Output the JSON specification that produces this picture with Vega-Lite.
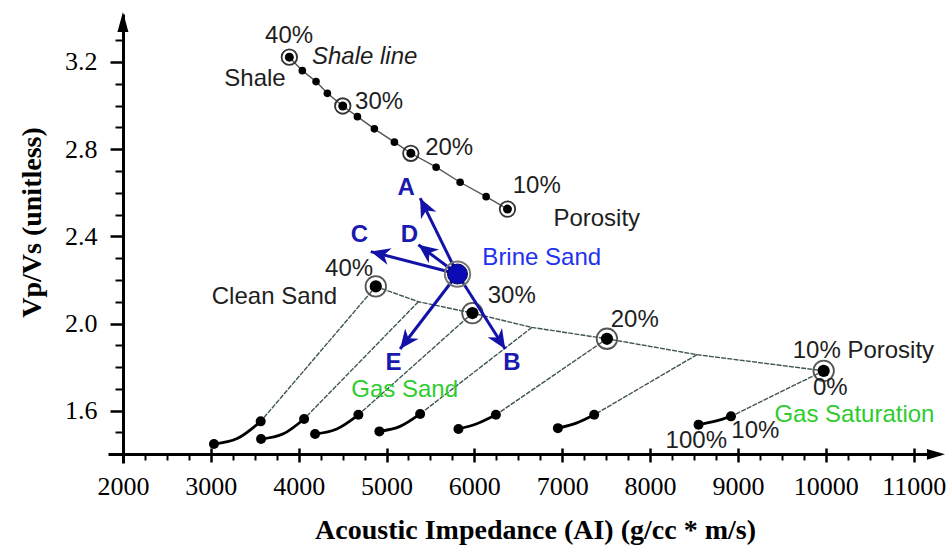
{
  "$schema": "https://vega.github.io/schema/vega-lite/v6.json",
  "width": 832,
  "height": 449,
  "autosize": {"type": "none"},
  "padding": {"left": 108, "top": 14, "right": 10, "bottom": 84},
  "background": "white",
  "config": {"view": {"stroke": null}, "axis": {"grid": false}},
  "resolve": {"axis": {"x": "independent", "y": "independent"}},
  "datasets": {
    "shale": [
      {"por": 40, "ai": 3894, "vpvs": 3.222},
      {"por": 37.5, "ai": 4042, "vpvs": 3.160},
      {"por": 35, "ai": 4198, "vpvs": 3.110},
      {"por": 32.5, "ai": 4327, "vpvs": 3.056},
      {"por": 30, "ai": 4502, "vpvs": 2.998},
      {"por": 27.5, "ai": 4669, "vpvs": 2.949},
      {"por": 25, "ai": 4862, "vpvs": 2.893},
      {"por": 22.5, "ai": 5090, "vpvs": 2.832},
      {"por": 20, "ai": 5277, "vpvs": 2.781},
      {"por": 17.5, "ai": 5565, "vpvs": 2.717},
      {"por": 15, "ai": 5838, "vpvs": 2.648},
      {"por": 12.5, "ai": 6134, "vpvs": 2.582},
      {"por": 10, "ai": 6377, "vpvs": 2.525}
    ],
    "sand": [
      {"por": 40, "ai": 4878, "vpvs": 2.170},
      {"por": 35, "ai": 5363, "vpvs": 2.100},
      {"por": 30, "ai": 5978, "vpvs": 2.048},
      {"por": 25, "ai": 6655, "vpvs": 1.982},
      {"por": 20, "ai": 7509, "vpvs": 1.930},
      {"por": 15, "ai": 8534, "vpvs": 1.857},
      {"por": 10, "ai": 9976, "vpvs": 1.783}
    ],
    "ties": [
      {"por": 40, "ai0": 4878, "v0": 2.170, "ai1": 3568, "v1": 1.551},
      {"por": 35, "ai0": 5363, "v0": 2.100, "ai1": 4062, "v1": 1.562},
      {"por": 30, "ai0": 5978, "v0": 2.048, "ai1": 4680, "v1": 1.581},
      {"por": 25, "ai0": 6655, "v0": 1.982, "ai1": 5383, "v1": 1.585},
      {"por": 20, "ai0": 7509, "v0": 1.930, "ai1": 6245, "v1": 1.581},
      {"por": 15, "ai0": 8534, "v0": 1.857, "ai1": 7364, "v1": 1.581},
      {"por": 10, "ai0": 9976, "v0": 1.783, "ai1": 8921, "v1": 1.574}
    ],
    "gas": [
      {"por": 40, "sat": 10, "ai": 3568, "vpvs": 1.551},
      {"por": 40, "sat": 50, "ai": 3300, "vpvs": 1.472},
      {"por": 40, "sat": 100, "ai": 3036, "vpvs": 1.447},
      {"por": 35, "sat": 10, "ai": 4062, "vpvs": 1.562},
      {"por": 35, "sat": 50, "ai": 3826, "vpvs": 1.494},
      {"por": 35, "sat": 100, "ai": 3572, "vpvs": 1.470},
      {"por": 30, "sat": 10, "ai": 4680, "vpvs": 1.581},
      {"por": 30, "sat": 50, "ai": 4434, "vpvs": 1.516},
      {"por": 30, "sat": 100, "ai": 4187, "vpvs": 1.493},
      {"por": 25, "sat": 10, "ai": 5383, "vpvs": 1.585},
      {"por": 25, "sat": 50, "ai": 5155, "vpvs": 1.528},
      {"por": 25, "sat": 100, "ai": 4919, "vpvs": 1.505},
      {"por": 20, "sat": 10, "ai": 6245, "vpvs": 1.581},
      {"por": 20, "sat": 50, "ai": 6028, "vpvs": 1.540},
      {"por": 20, "sat": 100, "ai": 5819, "vpvs": 1.516},
      {"por": 15, "sat": 10, "ai": 7364, "vpvs": 1.581},
      {"por": 15, "sat": 50, "ai": 7167, "vpvs": 1.544},
      {"por": 15, "sat": 100, "ai": 6951, "vpvs": 1.520},
      {"por": 10, "sat": 10, "ai": 8921, "vpvs": 1.574},
      {"por": 10, "sat": 50, "ai": 8743, "vpvs": 1.552},
      {"por": 10, "sat": 100, "ai": 8552, "vpvs": 1.536}
    ],
    "brine": [{"ai": 5808, "vpvs": 2.227}],
    "arrows": [
      {"arrow": "A", "ai0": 5808, "v0": 2.227, "ai1": 5383, "v1": 2.575},
      {"arrow": "B", "ai0": 5808, "v0": 2.227, "ai1": 6351, "v1": 1.883},
      {"arrow": "C", "ai0": 5808, "v0": 2.227, "ai1": 4821, "v1": 2.330},
      {"arrow": "D", "ai0": 5808, "v0": 2.227, "ai1": 5363, "v1": 2.361},
      {"arrow": "E", "ai0": 5808, "v0": 2.227, "ai1": 5155, "v1": 1.883}
    ],
    "labels": [
      {"text": "40%", "ai": 3891, "vpvs": 3.319, "kind": "black"},
      {"text": "Shale", "ai": 3503, "vpvs": 3.122, "kind": "black"},
      {"text": "30%", "ai": 4916, "vpvs": 3.017, "kind": "black"},
      {"text": "20%", "ai": 5713, "vpvs": 2.803, "kind": "black"},
      {"text": "10%", "ai": 6710, "vpvs": 2.631, "kind": "black"},
      {"text": "Porosity", "ai": 7393, "vpvs": 2.478, "kind": "black"},
      {"text": "40%", "ai": 4574, "vpvs": 2.249, "kind": "black"},
      {"text": "Clean Sand", "ai": 3725, "vpvs": 2.120, "kind": "black"},
      {"text": "30%", "ai": 6425, "vpvs": 2.127, "kind": "black"},
      {"text": "20%", "ai": 7826, "vpvs": 2.015, "kind": "black"},
      {"text": "10% Porosity", "ai": 10428, "vpvs": 1.873, "kind": "black"},
      {"text": "0%", "ai": 10052, "vpvs": 1.702, "kind": "black"},
      {"text": "10%", "ai": 9198, "vpvs": 1.508, "kind": "black"},
      {"text": "100%", "ai": 8526, "vpvs": 1.460, "kind": "black"},
      {"text": "Shale line", "ai": 4751, "vpvs": 3.223, "kind": "italic"},
      {"text": "Brine Sand", "ai": 6767, "vpvs": 2.301, "kind": "blue"},
      {"text": "Gas Saturation", "ai": 10326, "vpvs": 1.582, "kind": "green"},
      {"text": "Gas Sand", "ai": 5206, "vpvs": 1.697, "kind": "green"},
      {"text": "A", "ai": 5223, "vpvs": 2.621, "kind": "arrow"},
      {"text": "B", "ai": 6427, "vpvs": 1.819, "kind": "arrow"},
      {"text": "C", "ai": 4691, "vpvs": 2.407, "kind": "arrow"},
      {"text": "D", "ai": 5261, "vpvs": 2.407, "kind": "arrow"},
      {"text": "E", "ai": 5079, "vpvs": 1.818, "kind": "arrow"}
    ]
  },
  "layer": [
    {
      "data": {"name": "ties"},
      "mark": {"type": "rule", "stroke": "#3f5552", "strokeWidth": 1.4, "strokeDash": [5, 1.2]},
      "encoding": {
        "x": {"field": "ai0", "type": "quantitative", "scale": {"domain": [1830, 11300], "nice": false, "zero": false},
          "axis": {"orient": "bottom", "offset": -9, "values": [2000, 3000, 4000, 5000, 6000, 7000, 8000, 9000, 10000, 11000],
            "format": "d", "domain": true, "domainColor": "black", "domainWidth": 3, "ticks": true, "tickColor": "black", "tickWidth": 2.5, "tickSize": 8,
            "labelFont": "Liberation Serif", "labelFontSize": 26, "labelColor": "black", "labelPadding": 11, "labelOverlap": false, "labelFlush": false,
            "title": "Acoustic Impedance (AI) (g/cc * m/s)", "titleFont": "Liberation Serif", "titleFontWeight": "bold", "titleFontSize": 28, "titleColor": "black",
            "titleX": 427, "titleY": 84, "titleAlign": "center", "titleBaseline": "alphabetic"}},
        "y": {"field": "v0", "type": "quantitative", "scale": {"domain": [1.36, 3.42], "nice": false, "zero": false},
          "axis": {"orient": "left", "offset": -15, "values": [1.6, 2.0, 2.4, 2.8, 3.2], "format": ".1f",
            "domain": true, "domainColor": "black", "domainWidth": 3, "ticks": true, "tickColor": "black", "tickWidth": 2.5, "tickSize": 13,
            "labelFont": "Liberation Serif", "labelFontSize": 26, "labelColor": "black", "labelPadding": 13, "labelOverlap": false, "labelFlush": false,
            "title": "Vp/Vs (unitless)", "titleFont": "Liberation Serif", "titleFontWeight": "bold", "titleFontSize": 28, "titleColor": "black",
            "titleX": -83, "titleY": 208, "titleAlign": "center", "titleBaseline": "alphabetic", "titleAngle": -90}},
        "x2": {"field": "ai1"},
        "y2": {"field": "v1"}
      }
    },
    {
      "data": {"name": "sand"},
      "mark": {"type": "line", "stroke": "#3f5552", "strokeWidth": 1.4, "strokeDash": [5, 1.2]},
      "encoding": {
        "x": {"field": "ai", "type": "quantitative", "scale": {"domain": [1830, 11300], "nice": false, "zero": false},
          "axis": {"orient": "bottom", "offset": -9, "values": [2250, 2500, 2750, 3250, 3500, 3750, 4250, 4500, 4750, 5250, 5500, 5750, 6250, 6500, 6750, 7250, 7500, 7750, 8250, 8500, 8750, 9250, 9500, 9750, 10250, 10500, 10750],
            "domain": false, "labels": false, "ticks": true, "tickColor": "black", "tickWidth": 2, "tickSize": 6, "title": null}},
        "y": {"field": "vpvs", "type": "quantitative", "scale": {"domain": [1.36, 3.42], "nice": false, "zero": false},
          "axis": {"orient": "left", "offset": -15, "values": [1.5, 1.7, 1.8, 1.9, 2.1, 2.2, 2.3, 2.5, 2.6, 2.7, 2.9, 3.0, 3.1, 3.3],
            "domain": false, "labels": false, "ticks": true, "tickColor": "black", "tickWidth": 2, "tickSize": 8, "title": null}},
        "order": {"field": "por", "type": "quantitative", "sort": "descending"}
      }
    },
    {
      "data": {"name": "shale"},
      "mark": {"type": "line", "stroke": "#555555", "strokeWidth": 1.4},
      "encoding": {
        "x": {"field": "ai", "type": "quantitative", "scale": {"domain": [1830, 11300], "nice": false, "zero": false},
          "axis": {"orient": "top", "offset": -440, "values": [2000, 3000, 4000, 5000, 6000, 7000, 8000, 9000, 10000, 11000],
            "domain": false, "labels": false, "ticks": true, "tickColor": "black", "tickWidth": 2.5, "tickSize": 6, "title": null}},
        "y": {"field": "vpvs", "type": "quantitative", "scale": {"domain": [1.36, 3.42], "nice": false, "zero": false}, "axis": null},
        "order": {"field": "por", "type": "quantitative", "sort": "descending"}
      }
    },
    {
      "data": {"name": "gas"},
      "mark": {"type": "line", "stroke": "black", "strokeWidth": 2.8, "interpolate": "monotone"},
      "encoding": {
        "x": {"field": "ai", "type": "quantitative", "axis": null},
        "y": {"field": "vpvs", "type": "quantitative", "axis": null},
        "detail": {"field": "por"},
        "order": {"field": "sat", "type": "quantitative"}
      }
    },
    {
      "data": {"name": "shale"},
      "mark": {"type": "point", "filled": true, "fill": "black", "stroke": null, "size": 58, "opacity": 1},
      "encoding": {
        "x": {"field": "ai", "type": "quantitative", "axis": null},
        "y": {"field": "vpvs", "type": "quantitative", "axis": null}
      }
    },
    {
      "data": {"name": "shale"},
      "transform": [{"filter": {"field": "por", "oneOf": [40, 30, 20, 10]}}],
      "mark": {"type": "point", "filled": true, "fill": "black", "stroke": null, "size": 80, "opacity": 1},
      "encoding": {
        "x": {"field": "ai", "type": "quantitative", "axis": null},
        "y": {"field": "vpvs", "type": "quantitative", "axis": null}
      }
    },
    {
      "data": {"name": "shale"},
      "transform": [{"filter": {"field": "por", "oneOf": [40, 30, 20, 10]}}],
      "mark": {"type": "point", "filled": false, "stroke": "#333333", "strokeWidth": 1.8, "size": 240, "opacity": 1},
      "encoding": {
        "x": {"field": "ai", "type": "quantitative", "axis": null},
        "y": {"field": "vpvs", "type": "quantitative", "axis": null}
      }
    },
    {
      "data": {"name": "sand"},
      "transform": [{"filter": {"field": "por", "oneOf": [40, 30, 20, 10]}}],
      "mark": {"type": "point", "filled": true, "fill": "black", "stroke": null, "size": 150, "opacity": 1},
      "encoding": {
        "x": {"field": "ai", "type": "quantitative", "axis": null},
        "y": {"field": "vpvs", "type": "quantitative", "axis": null}
      }
    },
    {
      "data": {"name": "sand"},
      "transform": [{"filter": {"field": "por", "oneOf": [40, 30, 20, 10]}}],
      "mark": {"type": "point", "filled": false, "stroke": "#555555", "strokeWidth": 1.8, "size": 420, "opacity": 1},
      "encoding": {
        "x": {"field": "ai", "type": "quantitative", "axis": null},
        "y": {"field": "vpvs", "type": "quantitative", "axis": null}
      }
    },
    {
      "data": {"name": "gas"},
      "transform": [{"filter": {"field": "sat", "oneOf": [10, 100]}}],
      "mark": {"type": "point", "filled": true, "fill": "black", "stroke": null, "size": 100, "opacity": 1},
      "encoding": {
        "x": {"field": "ai", "type": "quantitative", "axis": null},
        "y": {"field": "vpvs", "type": "quantitative", "axis": null}
      }
    },
    {
      "data": {"name": "arrows"},
      "mark": {"type": "rule", "stroke": "#1212a8", "strokeWidth": 3},
      "encoding": {
        "x": {"field": "ai0", "type": "quantitative", "axis": null},
        "y": {"field": "v0", "type": "quantitative", "axis": null},
        "x2": {"field": "ai1"},
        "y2": {"field": "v1"}
      }
    },
    {
      "data": {"name": "arrows"},
      "mark": {"type": "point", "filled": true, "fill": "#1212a8", "stroke": null, "size": 520, "opacity": 1,
        "shape": "M0,0L0.75,1.7L0,1.2L-0.75,1.7Z"},
      "encoding": {
        "x": {"field": "ai1", "type": "quantitative", "axis": null},
        "y": {"field": "v1", "type": "quantitative", "axis": null},
        "angle": {"field": "arrow", "type": "nominal", "legend": null,
          "scale": {"type": "ordinal", "domain": ["A", "B", "C", "D", "E"], "range": [334, 147.5, 284.6, 306.9, 217.4]}}
      }
    },
    {
      "data": {"name": "brine"},
      "mark": {"type": "point", "filled": false, "stroke": "#777777", "strokeWidth": 2, "size": 640, "opacity": 1},
      "encoding": {
        "x": {"field": "ai", "type": "quantitative", "axis": null},
        "y": {"field": "vpvs", "type": "quantitative", "axis": null}
      }
    },
    {
      "data": {"name": "brine"},
      "mark": {"type": "point", "filled": true, "fill": "#0b0bb5", "stroke": "#050560", "strokeWidth": 1, "size": 400, "opacity": 1},
      "encoding": {
        "x": {"field": "ai", "type": "quantitative", "axis": null},
        "y": {"field": "vpvs", "type": "quantitative", "axis": null}
      }
    },
    {
      "data": {"values": [{"ai": 2000, "vpvs": 3.383}]},
      "mark": {"type": "point", "filled": true, "fill": "black", "stroke": null, "size": 400, "opacity": 1, "shape": "M0,-1L0.55,1L-0.55,1Z"},
      "encoding": {
        "x": {"field": "ai", "type": "quantitative", "axis": null},
        "y": {"field": "vpvs", "type": "quantitative", "axis": null}
      }
    },
    {
      "data": {"values": [{"ai": 11254, "vpvs": 1.4}]},
      "mark": {"type": "point", "filled": true, "fill": "black", "stroke": null, "size": 324, "opacity": 1, "shape": "M1,0L-1,0.6L-1,-0.6Z"},
      "encoding": {
        "x": {"field": "ai", "type": "quantitative", "axis": null},
        "y": {"field": "vpvs", "type": "quantitative", "axis": null}
      }
    },
    {
      "data": {"name": "labels"},
      "transform": [{"filter": {"field": "kind", "equal": "black"}}],
      "mark": {"type": "text", "font": "Liberation Sans", "fontSize": 24, "fill": "#1e1e1e", "align": "center", "baseline": "middle"},
      "encoding": {
        "x": {"field": "ai", "type": "quantitative", "axis": null},
        "y": {"field": "vpvs", "type": "quantitative", "axis": null},
        "text": {"field": "text"}
      }
    },
    {
      "data": {"name": "labels"},
      "transform": [{"filter": {"field": "kind", "equal": "italic"}}],
      "mark": {"type": "text", "font": "Liberation Sans", "fontSize": 24, "fontStyle": "italic", "fill": "#1e1e1e", "align": "center", "baseline": "middle"},
      "encoding": {
        "x": {"field": "ai", "type": "quantitative", "axis": null},
        "y": {"field": "vpvs", "type": "quantitative", "axis": null},
        "text": {"field": "text"}
      }
    },
    {
      "data": {"name": "labels"},
      "transform": [{"filter": {"field": "kind", "equal": "blue"}}],
      "mark": {"type": "text", "font": "Liberation Sans", "fontSize": 24, "fill": "#2230f0", "align": "center", "baseline": "middle"},
      "encoding": {
        "x": {"field": "ai", "type": "quantitative", "axis": null},
        "y": {"field": "vpvs", "type": "quantitative", "axis": null},
        "text": {"field": "text"}
      }
    },
    {
      "data": {"name": "labels"},
      "transform": [{"filter": {"field": "kind", "equal": "green"}}],
      "mark": {"type": "text", "font": "Liberation Sans", "fontSize": 24, "fill": "#2ecc2e", "align": "center", "baseline": "middle"},
      "encoding": {
        "x": {"field": "ai", "type": "quantitative", "axis": null},
        "y": {"field": "vpvs", "type": "quantitative", "axis": null},
        "text": {"field": "text"}
      }
    },
    {
      "data": {"name": "labels"},
      "transform": [{"filter": {"field": "kind", "equal": "arrow"}}],
      "mark": {"type": "text", "font": "Liberation Sans", "fontSize": 24, "fontWeight": "bold", "fill": "#1a1ab0", "align": "center", "baseline": "middle"},
      "encoding": {
        "x": {"field": "ai", "type": "quantitative", "axis": null},
        "y": {"field": "vpvs", "type": "quantitative", "axis": null},
        "text": {"field": "text"}
      }
    }
  ]
}
